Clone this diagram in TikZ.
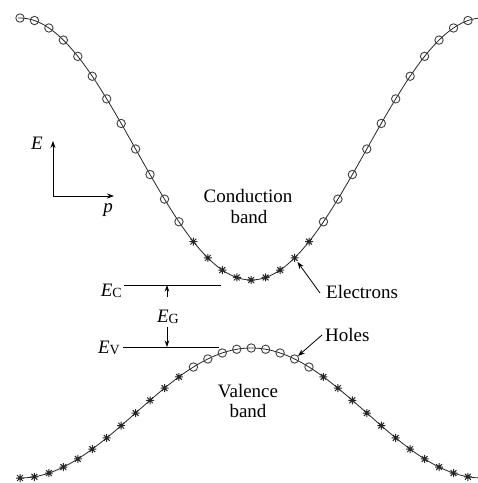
\documentclass[tikz,border=0pt]{standalone}
\usepackage{fontspec}
\setmainfont{Liberation Serif}
\usetikzlibrary{arrows.meta}
\begin{document}
\begin{tikzpicture}[x=1pt,y=-1pt,
  band/.style={line width=0.8pt, black!85},
  holemark/.style={draw=black!75, line width=0.9pt},
  elecmark/.style={line width=1pt, black!85},
  lvl/.style={line width=0.8pt},
  arr/.style={line width=0.8pt, -{Stealth[length=7pt,width=5pt]}},
  smallarr/.style={line width=0.7pt, -{Stealth[length=6.5pt,width=4.5pt]}},
  lbl/.style={font=\fontsize{19}{22}\selectfont, inner sep=0pt},
  elec/.pic={\fill[black!85] (0,0) circle (1.6);
    \draw[elecmark] (-4,0)--(4,0) (0,-4)--(0,4) (-2.9,-2.9)--(2.9,2.9) (-2.9,2.9)--(2.9,-2.9);},
  hole/.pic={\draw[holemark] (0,0) circle (4.2);},
]
\useasboundingbox (0,0) rectangle (478,483);
% bands
\draw[band] plot[smooth, domain=18:478, samples=120] (\x, {149+131*cos(0.77855*(\x-251.2))});
\draw[band] plot[smooth, domain=18:478, samples=120] (\x, {413-65*cos(0.77855*(\x-251.2))});
% markers
\foreach \i in {0,...,31}{
  \pgfmathsetmacro{\px}{251.2+14.45*(\i-16)}
  \pgfmathsetmacro{\cy}{149+131*cos(11.25*(\i-16))}
  \pgfmathsetmacro{\vy}{413-65*cos(11.25*(\i-16))}
  \pgfmathtruncatemacro{\inn}{abs(\i-16)<=4 ? 1 : 0}
  \coordinate (c\i) at (\px,\cy);
  \coordinate (v\i) at (\px,\vy);
  \ifnum\inn=1
    \pic at (c\i) {elec};
    \pic at (v\i) {hole};
  \else
    \pic at (c\i) {hole};
    \pic at (v\i) {elec};
  \fi
}
% axes
\coordinate (O) at (53,196);
\coordinate (Etip) at (53,141);
\coordinate (ptip) at (114,196);
\draw[arr] (O) -- (Etip);
\draw[arr] (O) -- (ptip);
\node[lbl, anchor=base] (Elab) at (37,149) {\textit{E}};
\node[lbl, anchor=base] (plab) at (108,212) {\textit{p}};
% band labels
\node[lbl, anchor=base] (cond1) at (248,202) {Conduction};
\node[lbl, anchor=base] (cond2) at (249,223) {band};
\node[lbl, anchor=base] (val1) at (248,397) {Valence};
\node[lbl, anchor=base] (val2) at (248,417) {band};
% levels
\coordinate (ecl) at (124,285); \coordinate (ecr) at (221,285);
\coordinate (evl) at (123,347); \coordinate (evr) at (219,347);
\draw[lvl] (ecl) -- (ecr);
\draw[lvl] (evl) -- (evr);
\node[lbl, anchor=base east] (EC) at (122,296) {\textit{E}\raisebox{-1.5pt}{\fontsize{14}{14}\selectfont C}};
\node[lbl, anchor=base east] (EV) at (120,353) {\textit{E}\raisebox{-1.5pt}{\fontsize{14}{14}\selectfont V}};
\node[lbl, anchor=base] (EG) at (168,322) {\textit{E}\raisebox{-1.5pt}{\fontsize{14}{14}\selectfont G}};
\coordinate (gtop) at (167,297);
\coordinate (gbot) at (167,327);
\draw[smallarr] (gtop) -- (gtop |- ecr);
\draw[smallarr] (gbot) -- (gbot |- evr);
% electrons / holes
\node[lbl, anchor=base west] (elec) at (326,298) {Electrons};
\node[lbl, anchor=base west] (holes) at (325,341) {Holes};
\coordinate (etail) at (320,293);
\coordinate (htail) at (322,335);
\draw[arr, shorten >=5pt] (etail) -- (c19);
\draw[arr, shorten >=4.5pt] (htail) -- (v19);
\end{tikzpicture}
\end{document}
